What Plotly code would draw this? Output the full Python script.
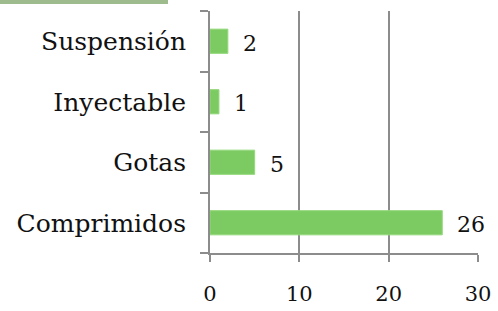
import plotly.graph_objects as go

categories = ["Comprimidos", "Gotas", "Inyectable", "Suspensión"]
values = [26, 5, 1, 2]
x_ticks = [0, 10, 20, 30]
x_tick_labels = ["0", "10", "20", "30"]

FONT = "DejaVu Serif"
GRAY = "#8c8c8c"

fig = go.Figure()
fig.add_trace(go.Bar(
    y=categories, x=values, orientation="h",
    marker=dict(color="#7ccb62", line=dict(color="#93d87a", width=1)),
    width=0.4,
    hoverinfo="skip",
))

for c, v in zip(categories, values):
    fig.add_annotation(x=v, y=c, text=str(v), showarrow=False,
                       xanchor="left", yanchor="middle", xshift=13, yshift=-2,
                       font=dict(family=FONT, size=22, color="#111111"))

fig.add_shape(type="rect", xref="paper", yref="paper",
              x0=-210/268, x1=(168-210)/268, y0=1+7/242, y1=1+11/242,
              fillcolor="#9dbb8d", line=dict(width=0), layer="above")

fig.update_layout(
    width=498, height=311,
    margin=dict(l=210, r=20, t=11, b=58, autoexpand=False),
    paper_bgcolor="white", plot_bgcolor="white",
    showlegend=False,
    font=dict(family=FONT, color="#111111"),
    xaxis=dict(
        range=[0, 30], tickvals=x_ticks, ticktext=x_tick_labels,
        showgrid=True, gridcolor=GRAY, gridwidth=2,
        showline=True, linecolor=GRAY, linewidth=2,
        ticks="outside", ticklen=7, tickcolor=GRAY, tickwidth=2,
        tickfont=dict(family=FONT, size=21, color="#111111"),
        ticklabelstandoff=14,
        zeroline=False, fixedrange=True, automargin=False,
    ),
    yaxis=dict(
        categoryorder="array", categoryarray=categories,
        showline=True, linecolor=GRAY, linewidth=2,
        ticks="outside", ticklen=8, tickcolor=GRAY, tickwidth=2,
        tickson="boundaries",
        showgrid=False,
        tickfont=dict(family=FONT, size=25, color="#111111"),
        ticklabelstandoff=17,
        fixedrange=True, automargin=False,
    ),
)

fig.write_html("out.html", config={"displayModeBar": False},
               post_script="document.body.style.margin='0';document.body.style.overflow='hidden';")
